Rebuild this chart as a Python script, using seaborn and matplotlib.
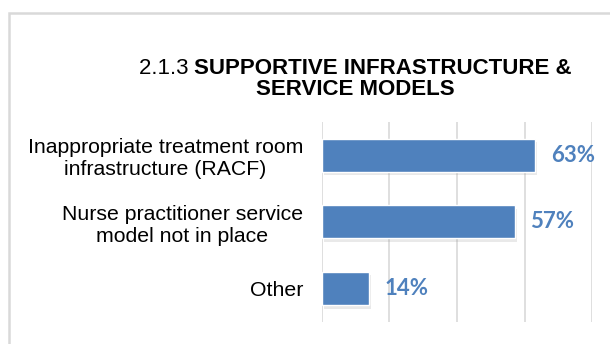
import matplotlib
matplotlib.use("Agg")
import matplotlib.pyplot as plt
import matplotlib.patheffects as pe
from matplotlib.patches import Rectangle
import seaborn as sns
import pandas as pd

categories = ["Inappropriate treatment room\ninfrastructure (RACF)",
              "Nurse practitioner service\nmodel not in place",
              "Other"]
values = [63, 57, 14]
x_ticks = [0, 20, 40, 60, 80]

BAR = "#4f81bd"
GRID = "#d9d9d9"

sns.set_theme(style="white")
plt.rcParams["font.family"] = ["Liberation Sans", "DejaVu Sans"]

df = pd.DataFrame({"category": categories, "value": values})

W, H = 610, 344
fig = plt.figure(figsize=(W / 100, H / 100), dpi=100)
ax = fig.add_axes([321.7 / W, (H - 321.7) / H, 270.6 / W, 199.7 / H])

sns.barplot(data=df, x="value", y="category", orient="h", color=BAR,
            saturation=1, width=0.5, ax=ax, zorder=3)
for p in ax.patches:
    p.set_path_effects([pe.SimplePatchShadow(offset=(1.5, -2.5), shadow_rgbFace="#888888", alpha=0.18),
                        pe.Normal()])

ax.set_xlim(x_ticks[0], x_ticks[-1])
ax.set_ylim(2.5, -0.5)
ax.set_xticks(x_ticks)
ax.set_xticklabels([])
ax.xaxis.grid(True, color=GRID, lw=1.2, zorder=0)
ax.yaxis.grid(False)
ax.set_axisbelow(True)
for s in ax.spines.values():
    s.set_visible(False)
ax.set_xlabel("")
ax.set_ylabel("")
ax.tick_params(axis="both", length=0)
ax.tick_params(axis="y", pad=13.5)
for lbl in ax.get_yticklabels():
    lbl.set_fontsize(15.3)
    lbl.set_color("#000000")
    lbl.set_multialignment("center")
    lbl.set_linespacing(1.2)

for i, v in enumerate(values):
    ax.annotate(f"{v}%", xy=(v, i), xytext=(11.5, 0), textcoords="offset points",
                ha="left", va="center", fontsize=16, fontweight="bold",
                color=BAR, family=["Lato", "DejaVu Sans"])

# chart border
fig.add_artist(Rectangle((9 / W, -0.5), 2, (1 - 13 / H) + 0.5, transform=fig.transFigure,
                         fill=False, edgecolor=GRID, lw=1.8))

# title
tsize = 16
renderer = fig.canvas.get_renderer()
t_reg = fig.text(0, 0, "2.1.3 ", fontsize=tsize, color="black")
t_bold = fig.text(0, 0, "SUPPORTIVE INFRASTRUCTURE &", fontsize=tsize, fontweight="bold", color="black")
w_reg = t_reg.get_window_extent(renderer).width
w_bold = t_bold.get_window_extent(renderer).width
cx = 355.5
x0 = cx - (w_reg + w_bold) / 2
t_reg.set_position((x0 / W, (H - 73.5) / H))
t_reg.set_va("baseline")
t_bold.set_position(((x0 + w_reg) / W, (H - 73.5) / H))
t_bold.set_va("baseline")
fig.text(cx / W, (H - 94.5) / H, "SERVICE MODELS", fontsize=tsize, fontweight="bold",
         ha="center", va="baseline", color="black")

fig.savefig("out.png", dpi=100)
